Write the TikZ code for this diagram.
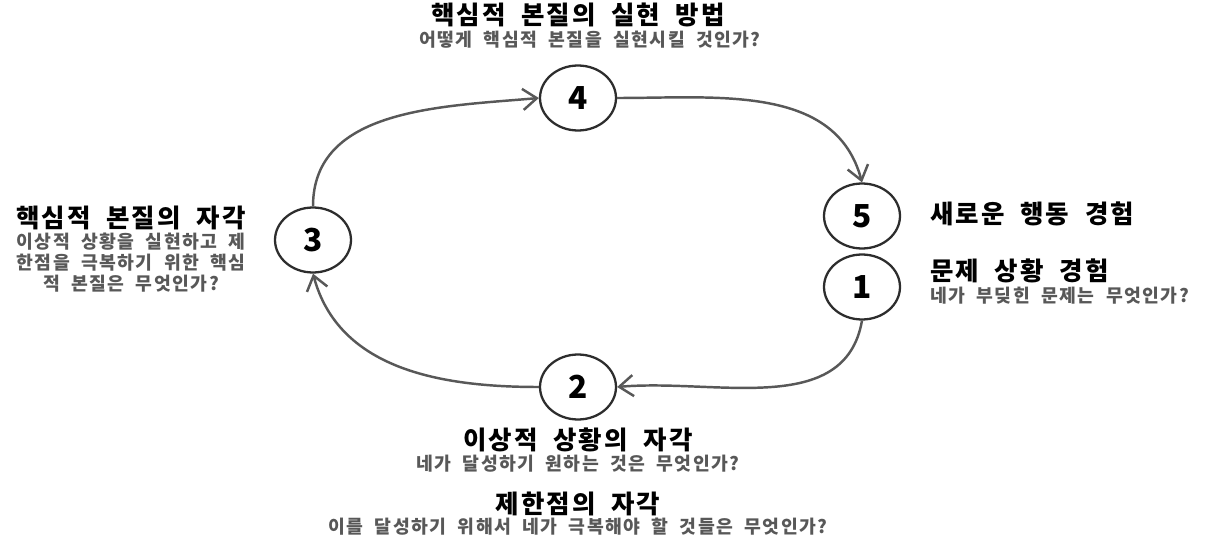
\documentclass[tikz,border=0pt]{standalone}
\usepackage{fontspec}
\newfontfamily\kr[LetterSpace=8, WordSpace=2]{Noto Sans CJK KR}
\newfontfamily\krnum{Noto Sans CJK KR}
\usetikzlibrary{arrows.meta, positioning, shapes.geometric}
\definecolor{lgray}{RGB}{88,88,88}
\definecolor{cgray}{RGB}{45,45,45}

\begin{document}
\begin{tikzpicture}[x=0.02cm, y=-0.02cm,
  num/.style={draw=cgray, ellipse, line width=1.3pt, minimum width=1.52cm,
              minimum height=1.3cm, inner sep=0, font=\krnum\bfseries\fontsize{18}{18}\selectfont},
  flow/.style={draw=lgray, line width=1.4pt, -{Straight Barb[length=8pt, width=12pt]}},
  head/.style={inner sep=0, font=\kr\bfseries\fontsize{14.5}{16}\selectfont},
  sub/.style={inner sep=0, text=lgray, align=center, font=\kr\bfseries\fontsize{10.4}{11.8}\selectfont},
]
\useasboundingbox (0,0) rectangle (1211,544);
% steps
\node[num] (c4) at (578, 98) {4};
\node[num] (c3) at (313, 240) {3};
\node[num] (c5) at (862, 216) {5};
\node[num] (c1) at (862, 287) {1};
\node[num] (c2) at (578, 387) {2};

% labels
\node[head] (t4) at (578, 15) {핵심적 본질의 실현 방법};
\node[sub] (s4) at (590, 40) {어떻게 핵심적 본질을 실현시킬 것인가?};
\node[head] (t3) at (131, 218) {핵심적 본질의 자각};
\node[sub, anchor=north] (s3) at (131, 233) {이상적 상황을 실현하고 제\\한점을 극복하기 위한 핵심\\적 본질은 무엇인가?};
\node[head, anchor=west] (t5) at (930, 214) {새로운 행동 경험};
\node[head, anchor=west] (t1) at (930, 271) {문제 상황 경험};
\node[sub, anchor=west] (s1) at (930, 296) {네가 부딪힌 문제는 무엇인가?};
\node[head] (t2) at (578, 440) {이상적 상황의 자각};
\node[sub] (s2) at (578, 464) {네가 달성하기 원하는 것은 무엇인가?};
\node[head] (t0) at (578, 504) {제한점의 자각};
\node[sub] (s0) at (578, 527) {이를 달성하기 위해서 네가 극복해야 할 것들은 무엇인가?};

% cycle
\draw[flow] (c3.north) to[out=90, in=185] (c4.west);
\draw[flow] (c4.east) to[out=0, in=105] (c5.north);
\draw[flow] (c1.south) to[out=-100, in=5] (c2.east);
\draw[flow] (c2.west) to[out=180, in=-75] (c3.south);
\end{tikzpicture}
\end{document}
